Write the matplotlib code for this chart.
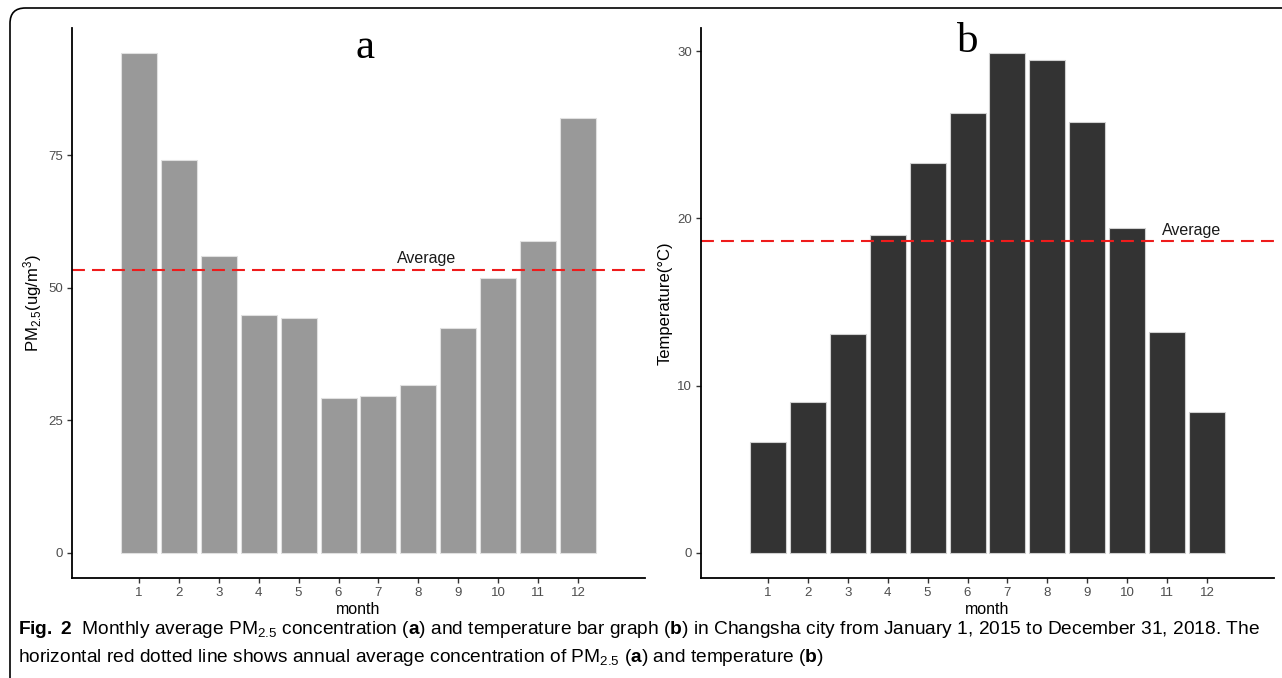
import numpy as np
import matplotlib
matplotlib.use("Agg")
import matplotlib.pyplot as plt
from matplotlib.patches import FancyBboxPatch

# 月份和两组数据
months = list(range(1, 13))
month_labels = [str(m) for m in months]
pm25 = [94.3, 74.1, 56.0, 44.9, 44.3, 29.2, 29.6, 31.6, 42.4, 51.9, 58.9, 82.1]
temperature = [6.6, 9.0, 13.1, 19.0, 23.3, 26.3, 29.9, 29.5, 25.8, 19.4, 13.2, 8.4]
pm25_avg = 53.4
temp_avg = 18.66
pm25_ticks = [0, 25, 50, 75]
temp_ticks = [0, 10, 20, 30]

caption_line1 = (r"$\bf{Fig.\ 2}$  Monthly average PM$_{2.5}$ concentration ($\bf{a}$) and temperature bar graph "
                 r"($\bf{b}$) in Changsha city from January 1, 2015 to December 31, 2018. The")
caption_line2 = (r"horizontal red dotted line shows annual average concentration of PM$_{2.5}$ ($\bf{a}$) "
                 r"and temperature ($\bf{b}$)")

plt.rcParams['font.family'] = ['Liberation Sans', 'DejaVu Sans']
plt.rcParams['mathtext.fontset'] = 'custom'
plt.rcParams['mathtext.rm'] = 'Liberation Sans'
plt.rcParams['mathtext.it'] = 'Liberation Sans:italic'
plt.rcParams['mathtext.bf'] = 'Liberation Sans:bold'

W, H = 1282, 678
fig = plt.figure(figsize=(W / 100, H / 100), dpi=100)

# 外框 (圆角), 右边和下边超出画面
frame = FancyBboxPatch((10 / W, -20 / H), 1.2, (H + 12) / H,
                       boxstyle="round,pad=0,rounding_size=0.012",
                       transform=fig.transFigure, fill=False,
                       edgecolor='black', linewidth=1.2, mutation_aspect=W / H)
fig.patches.append(frame)

ax_h = (577.7 - 28) / H
ax_b = (H - 577.7) / H
ax_w = 573 / W
ax1 = fig.add_axes([72 / W, ax_b, ax_w, ax_h])
ax2 = fig.add_axes([701 / W, ax_b, ax_w, ax_h])


def style_axis(ax, ylim, yticks, ylabel):
    ax.set_xlim(-0.67, 13.67)
    ax.set_ylim(*ylim)
    ax.set_xticks(months)
    ax.set_xticklabels(month_labels)
    ax.set_yticks(yticks)
    for s in ['top', 'right']:
        ax.spines[s].set_visible(False)
    for s in ['left', 'bottom']:
        ax.spines[s].set_linewidth(1.3)
        ax.spines[s].set_color('black')
    ax.tick_params(axis='both', direction='out', length=3.5, width=1,
                   color='#333333', labelcolor='#4d4d4d', labelsize=9.5, pad=3)
    ax.set_xlabel('month', fontsize=11.5, labelpad=2)
    ax.set_ylabel(ylabel, fontsize=12, labelpad=3)


# 图 a: PM2.5
ax1.bar(months, pm25, width=0.9, color='#999999', edgecolor='#e0e0e0', linewidth=0.8)
ax1.axhline(pm25_avg, color='#ee1c1c', linestyle=(0, (6.2, 3.4)), linewidth=1.5)
ax1.text(8.2, 55.6, 'Average', ha='center', va='center', fontsize=11.5, color='#1a1a1a')
ax1.text(6.66, 95.3, 'a', ha='center', va='center', fontsize=31, family='Liberation Serif')
style_axis(ax1, (-4.7, 99.0), pm25_ticks, r'PM$_{2.5}$(ug/m$^3$)')

# 图 b: 温度
ax2.bar(months, temperature, width=0.9, color='#333333', edgecolor='#d0d0d0', linewidth=0.8)
ax2.axhline(temp_avg, color='#ee1c1c', linestyle=(0, (6.2, 3.4)), linewidth=1.5)
ax2.text(11.6, 19.3, 'Average', ha='center', va='center', fontsize=11.5, color='#1a1a1a')
ax2.text(6.0, 30.6, 'b', ha='center', va='center', fontsize=31, family='Liberation Serif')
style_axis(ax2, (-1.5, 31.4), temp_ticks, 'Temperature(°C)')

# 图注
fig.text(18 / W, 1 - 630 / H, caption_line1, ha='left', va='center', fontsize=13.8)
fig.text(18 / W, 1 - 657 / H, caption_line2, ha='left', va='center', fontsize=13.8)

fig.savefig('out.png', dpi=100)
